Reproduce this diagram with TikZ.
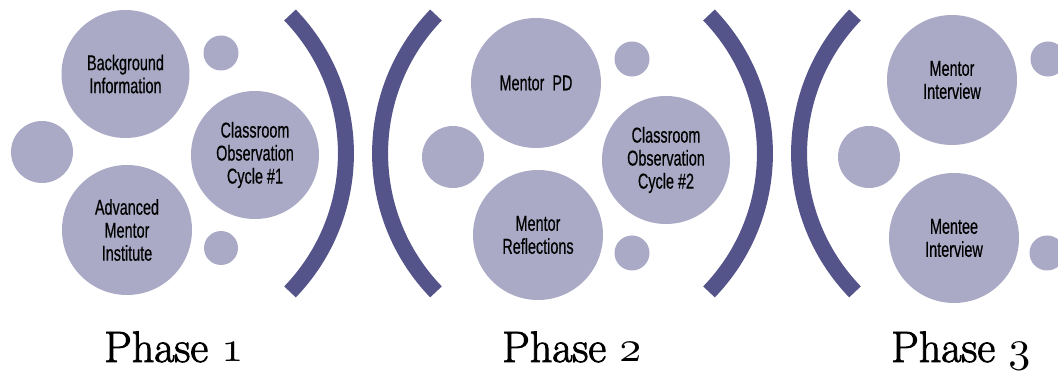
\documentclass[tikz,border=0pt]{standalone}
\usepackage{fontspec}
\usepackage{graphicx}
\newfontfamily\cfont[FakeStretch=0.67,FakeBold=0.5]{Liberation Sans}
\newfontfamily\pfont[FakeBold=2]{Latin Modern Roman}
\newcommand{\osnum}[1]{\scalebox{4.4}{\normalsize$\mathnormal{#1}$}}
\definecolor{circ}{RGB}{170,170,198}
\definecolor{brkc}{RGB}{84,84,138}
\begin{document}
\begin{tikzpicture}[x=1pt,y=-1pt,
  bub/.style={circle,fill=circ,inner sep=0pt,minimum size=#1,text=black,
    font=\cfont\fontsize{21.5}{23}\selectfont,align=center},
  brk/.style={draw=brkc,line width=16pt},
  phase/.style={anchor=base west,inner sep=0pt,font=\pfont\fontsize{44}{44}\selectfont}]
\clip (0,0) rectangle (1058,379);
% Phase 1
\node[bub=128pt] (bg) at (125.5,74) {Background\\Information};
\node[bub=35pt] (s1a) at (221,53) {};
\node[bub=62pt] (l1) at (42,152) {};
\node[bub=128pt] (obs1) at (255,155) {Classroom\\Observation\\Cycle \#1};
\node[bub=130pt] (adv) at (127,230) {Advanced\\Mentor\\Institute};
\node[bub=34pt] (s1b) at (221,248) {};
% Phase 2
\node[bub=130pt] (pd) at (536,83) {Mentor~ PD};
\node[bub=35pt] (s2a) at (632,59) {};
\node[bub=62pt] (l2) at (453,157) {};
\node[bub=128pt] (obs2) at (666,160) {Classroom\\Observation\\Cycle \#2};
\node[bub=130pt] (refl) at (538,235) {Mentor\\Reflections};
\node[bub=35pt] (s2b) at (632,253) {};
% Phase 3
\node[bub=130pt] (mi) at (952,80) {Mentor\\Interview};
\node[bub=35pt] (s3a) at (1048,59) {};
\node[bub=62pt] (l3) at (869,157) {};
\node[bub=130pt] (me) at (954,238) {Mentee\\Interview};
\node[bub=35pt] (s3b) at (1047,253) {};
% brackets
\draw[brk] (290,15) arc[start angle=44,end angle=-44,radius=199.3pt];
\draw[brk] (436,15) arc[start angle=136,end angle=224,radius=199.3pt];
\draw[brk] (709,15) arc[start angle=44,end angle=-44,radius=199.3pt];
\draw[brk] (855,15) arc[start angle=136,end angle=224,radius=199.3pt];
% labels
\node[phase] (p1) at (104,362) {Phase \osnum{1}};
\node[phase] (p2) at (502,362) {Phase \osnum{2}};
\node[phase] (p3) at (891,362) {Phase \osnum{3}};
\end{tikzpicture}
\end{document}
